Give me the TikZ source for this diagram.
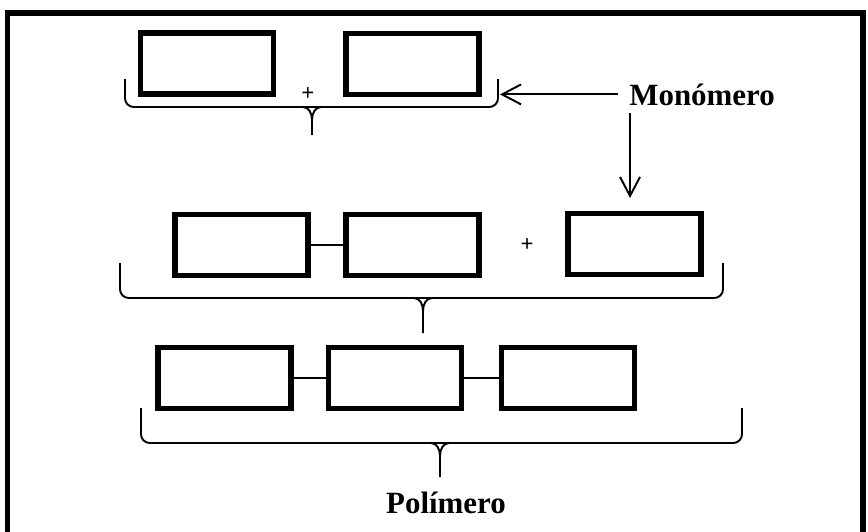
\documentclass[tikz,border=0pt]{standalone}
\usepackage{fontspec}
\setmainfont{Liberation Serif}
\usepackage{tikz}
\usetikzlibrary{
  arrows.meta,
  calc,
  positioning
}

% curly brace that opens upward: left x, right x, top y, bottom y, tip x, stem end y
\newcommand{\unitbrace}[6]{%
  \draw[bracestyle,rounded corners=5pt] (#1,#3) -- (#1,#4) -- (#2,#4) -- (#2,#3);
  \draw[bracestyle] (#5-0.18,#4) to[out=0,in=90] (#5,#4-0.26) -- (#5,#6);
  \draw[bracestyle] (#5+0.18,#4) to[out=180,in=90] (#5,#4-0.26);
}

\begin{document}
\begin{tikzpicture}[>={Straight Barb[length=3.8mm,width=4mm]}]
  \tikzset{
    unit/.style={draw,line width=3.3pt,minimum width=2.66cm,minimum height=1.22cm,inner sep=0pt},
    bond/.style={line width=1.3pt},
    bracestyle/.style={line width=1.1pt},
    label/.style={font=\bfseries\fontsize{17.6}{20}\selectfont,inner sep=0pt},
    plus/.style={font=\bfseries\fontsize{13}{14}\selectfont,inner sep=0pt}
  }
  \useasboundingbox (0,0) rectangle (17.36,-10.62);
  \begin{scope}
    \clip (0,0) rectangle (17.36,-10.62);
    \draw[line width=3pt] (0.15,-10.8) |- (17.26,-0.26) -- (17.26,-10.8);
  \end{scope}

  % two monomers
  \node[unit] (A) at (4.14,-1.27) {};
  \node[unit] (B) at (8.25,-1.28) {};
  \node[plus] (p1) at (6.16,-1.88) {+};
  \unitbrace{2.50}{9.96}{-1.58}{-2.14}{6.24}{-2.70}

  % dimer plus one monomer
  \node[unit] (C) at (4.83,-4.90) {};
  \node[unit] (D) at (8.25,-4.90) {};
  \node[unit] (E) at (12.69,-4.88) {};
  \node[plus] (p2) at (10.54,-4.90) {+};
  \draw[bond] (C) -- (D);
  \unitbrace{2.40}{14.46}{-5.26}{-5.96}{8.46}{-6.66}

  % trimer
  \node[unit] (F) at (4.49,-7.56) {};
  \node[unit] (G) at (7.90,-7.56) {};
  \node[unit] (H) at (11.36,-7.56) {};
  \draw[bond] (F) -- (G);
  \draw[bond] (G) -- (H);
  \unitbrace{2.82}{14.84}{-8.16}{-8.86}{8.80}{-9.54}

  % labels
  \node[label,anchor=base west] (mono) at (12.58,-2.10) {Monómero};
  \node[label,anchor=base] (poly) at (8.92,-10.26) {Polímero};
  \coordinate (toB) at (10.0,-1.86);
  \coordinate (toE) at (12.60,-3.96);
  \draw[line width=1.1pt,->] ([xshift=-0.22cm]mono.west) -- (mono.west -| toB);
  \draw[line width=1.1pt,->] ([xshift=0.02cm,yshift=-0.14cm]mono.south west) -- (toE);
\end{tikzpicture}
\end{document}
